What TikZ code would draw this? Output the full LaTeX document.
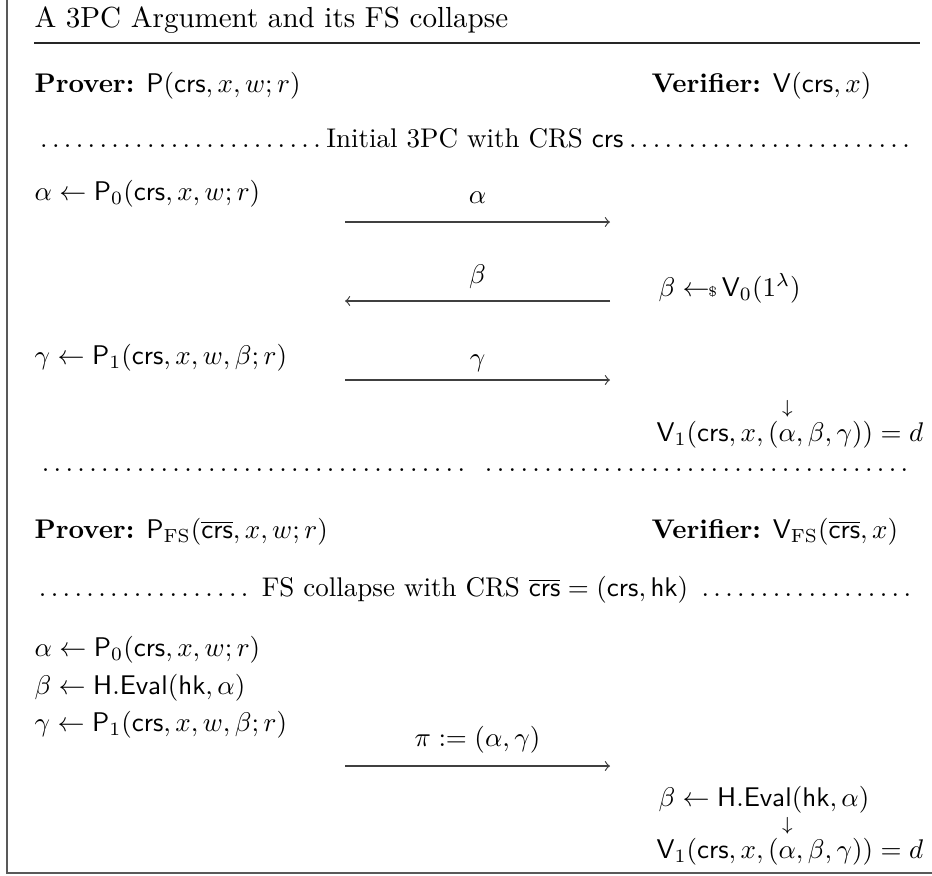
\documentclass[tikz,border=0pt]{standalone}
\usepackage{amsmath}
\newcommand{\smpl}{\gets\!\!\mbox{\tiny\$}\,}
\newcommand{\dnover}[1]{\overset{\raisebox{4pt}{$\scriptstyle\downarrow$}}{#1}}
\newcommand{\dotrule}[1]{\makebox[326.3pt]{#1}}
\tikzset{
  txt/.style={anchor=base west, inner sep=0pt},
  lbl/.style={anchor=base, inner sep=0pt},
  msg/.style={->, line width=0.45pt, black!75},
  frameline/.style={line width=0.8pt, black!65},
  titlerule/.style={line width=0.5pt, black!85}
}
\begin{document}
\begin{tikzpicture}[x=0.3704pt,y=-0.3704pt]
\useasboundingbox (0,0) rectangle (932,875);
% frame
\coordinate (ftop) at (7,0);
\coordinate (fcorner) at (7,873);
\coordinate (fright) at (932,873);
\draw[frameline] (ftop) -- (fcorner) -- (fright);
% title
\node[txt] (title) at (34,27) {\fontsize{10.75}{13}\selectfont A 3PC Argument and its FS collapse};
\coordinate (ruleL) at (34,43);
\coordinate (ruleR) at (920,43);
\draw[titlerule] (ruleL) -- (ruleR);
% headers
\node[txt] (ph1) at (34,92) {\textbf{Prover:} $\mathsf{P}(\mathsf{crs}, x, w; r)$};
\node[txt] (vh1) at (651,92) {\textbf{Verifier:} $\mathsf{V}(\mathsf{crs}, x)$};
\node[txt] (dot1) at (34,147) {\dotrule{\dotfill Initial 3PC with CRS $\mathsf{crs}$\dotfill}};
% round 1
\node[txt] (p0) at (34,200) {$\alpha \gets \mathsf{P}_0(\mathsf{crs}, x, w; r)$};
\node[lbl] (la) at (477.5,203) {$\alpha$};
\coordinate (a1s) at (345,222);
\coordinate (a1e) at (610,222);
\draw[msg] (a1s) -- (a1e);
\node[lbl] (lb) at (477.5,283) {$\beta$};
\coordinate (a2s) at (610,301);
\coordinate (a2e) at (345,301);
\draw[msg] (a2s) -- (a2e);
\node[txt] (v0) at (658,296) {$\beta \smpl \mathsf{V}_0(1^\lambda)$};
\node[txt] (p1) at (34,364) {$\gamma \gets \mathsf{P}_1(\mathsf{crs}, x, w, \beta; r)$};
\node[lbl] (lg) at (477.5,366) {$\gamma$};
\coordinate (a3s) at (345,380);
\coordinate (a3e) at (610,380);
\draw[msg] (a3s) -- (a3e);
\node[txt] (v1) at (656,441) {$\mathsf{V}_1(\mathsf{crs}, x, (\dnover{\alpha}, \beta, \gamma)) = d$};
\node[txt] (dot2) at (34,471) {\dotrule{\dotfill\hspace{2pt}\dotfill}};
% FS part
\node[txt] (ph2) at (34,538) {\textbf{Prover:} $\mathsf{P}_{\mathrm{FS}}(\overline{\mathsf{crs}}, x, w; r)$};
\node[txt] (vh2) at (651,538) {\textbf{Verifier:} $\mathsf{V}_{\mathrm{FS}}(\overline{\mathsf{crs}}, x)$};
\node[txt] (dot3) at (34,596) {\dotrule{\dotfill\ FS collapse with CRS $\overline{\mathsf{crs}} = (\mathsf{crs}, \mathsf{hk})$\ \dotfill}};
\node[txt] (fp0) at (34,656) {$\alpha \gets \mathsf{P}_0(\mathsf{crs}, x, w; r)$};
\node[txt] (fh) at (34,694) {$\beta \gets \mathsf{H.Eval}(\mathsf{hk}, \alpha)$};
\node[txt] (fp1) at (34,731) {$\gamma \gets \mathsf{P}_1(\mathsf{crs}, x, w, \beta; r)$};
\node[lbl] (lpi) at (477.5,746) {$\pi := (\alpha, \gamma)$};
\coordinate (a4s) at (345,766);
\coordinate (a4e) at (610,766);
\draw[msg] (a4s) -- (a4e);
\node[txt] (vh) at (658,806) {$\beta \gets \mathsf{H.Eval}(\mathsf{hk}, \alpha)$};
\node[txt] (fv1) at (656,858) {$\mathsf{V}_1(\mathsf{crs}, x, (\dnover{\alpha}, \beta, \gamma)) = d$};
\end{tikzpicture}
\end{document}
